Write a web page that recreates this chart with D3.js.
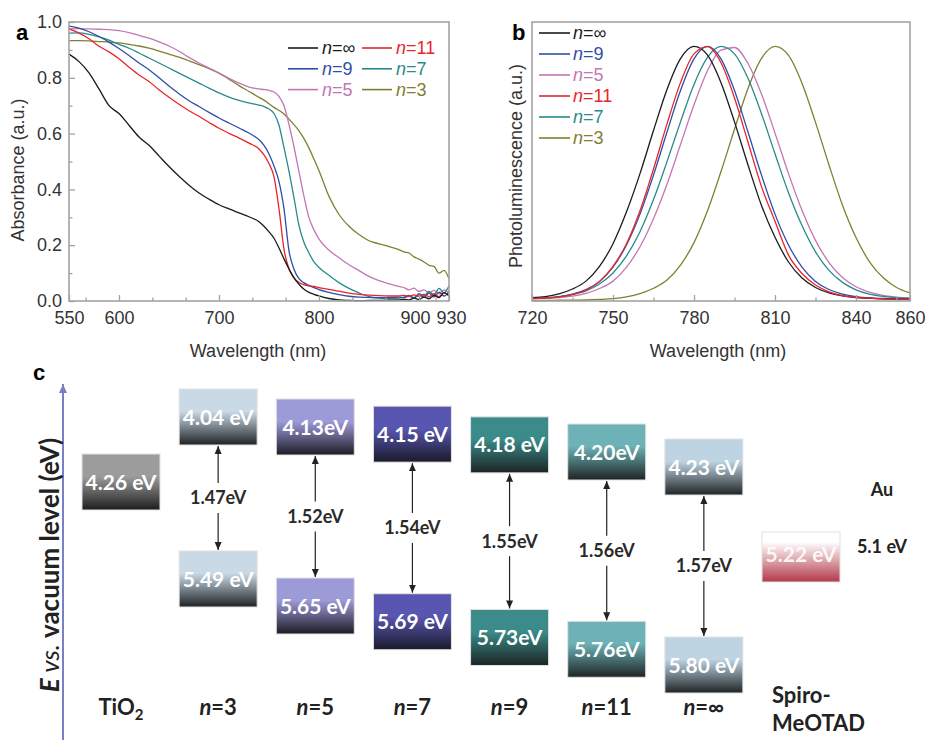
<!DOCTYPE html>
<html>
<head>
<meta charset="utf-8">
<script src="https://cdn.jsdelivr.net/npm/d3@7"></script>
<style>
body { margin: 0; background: #fff; }
svg { display: block; }
</style>
</head>
<body>
<div id="chart"></div>
<script>
// ---------- panel a : absorbance ----------
var absWl = [550,560,570,580,590,600,610,620,630,640,650,660,670,680,690,700,710,720,730,740,
             745,750,755,760,765,770,775,780,785,790,795,800,
             810,820,830,840,850,860,870,880,
             885,890,895,900,905,910,915,920,925,930];
var absInf = [.885,.858,.818,.760,.700,.672,.630,.588,.558,.520,.482,.447,.415,.387,.365,.345,.330,.316,.302,.284,
              .268,.248,.225,.190,.151,.115,.083,.060,.042,.031,.024,.018,
              .009,.004,.002,.001,.002,.002,.003,.004,
              .006,.004,.010,.006,.014,.008,.020,.012,.030,.018];
var abs11 = [.975,.960,.940,.913,.893,.868,.838,.810,.787,.757,.730,.705,.682,.662,.640,.619,.601,.584,.566,.545,
             .524,.492,.445,.330,.185,.115,.083,.066,.058,.054,.052,.048,
             .042,.035,.028,.024,.021,.019,.018,.018,
             .020,.016,.022,.017,.024,.015,.026,.016,.030,.020];
var abs9 = [.985,.978,.965,.948,.928,.905,.880,.853,.829,.800,.771,.743,.718,.697,.676,.656,.638,.620,.602,.578,
            .558,.527,.484,.428,.330,.180,.114,.080,.065,.056,.048,.041,
            .031,.023,.017,.014,.013,.012,.012,.014,
            .012,.018,.010,.022,.013,.028,.014,.032,.018,.034];
var abs7 = [.960,.961,.956,.947,.935,.920,.906,.889,.871,.853,.835,.817,.799,.781,.763,.746,.731,.719,.710,.702,
            .697,.688,.672,.630,.550,.465,.370,.270,.210,.172,.140,.120,
            .092,.066,.045,.029,.016,.010,.008,.010,
            .014,.020,.012,.026,.018,.034,.022,.045,.030,.055];
var abs5 = [.975,.976,.975,.974,.973,.969,.962,.952,.942,.929,.914,.895,.873,.853,.835,.817,.798,.781,.767,.760,
            .758,.755,.749,.733,.700,.632,.552,.463,.375,.298,.255,.222,
            .182,.155,.130,.109,.088,.073,.062,.052,
            .048,.040,.046,.034,.040,.028,.038,.026,.040,.030];
var abs3 = [.933,.933,.932,.930,.928,.925,.920,.914,.906,.896,.885,.874,.861,.847,.833,.817,.795,.772,.751,.730,
            .720,.707,.694,.683,.670,.652,.632,.610,.582,.548,.508,.467,
            .375,.310,.268,.238,.216,.205,.195,.184,
            .176,.172,.158,.150,.140,.128,.124,.100,.110,.080];
var absXTicks = [550,600,700,800,900,930];
var absXMinor = [566.67,633.33,666.67,733.33,766.67,833.33,866.67,916.67];
var absYTicks = [0,0.2,0.4,0.6,0.8,1.0];
var absYMinor = [0.1,0.3,0.5,0.7,0.9];

// ---------- panel b : photoluminescence ----------
var plWl = [720,725,730,735,740,745,750,755,760,765,770,775,780,785,790,795,800,805,810,815,820,825,830,835,840,845,850,855,860];
var plInf = [.013,.017,.028,.047,.078,.136,.225,.350,.500,.669,.830,.951,.999,.965,.857,.703,.534,.375,.250,.153,.090,.053,.032,.020,.013,.011,.008,.007,.006];
var pl9 = [.010,.012,.017,.027,.045,.077,.133,.220,.341,.494,.663,.826,.950,.999,.950,.826,.663,.494,.341,.220,.133,.077,.045,.027,.017,.012,.010,.008,.007];
var pl5 = [.008,.011,.013,.019,.030,.049,.078,.133,.213,.323,.458,.614,.770,.904,.985,.995,.932,.812,.659,.500,.356,.238,.151,.092,.056,.035,.022,.015,.011];
var pl11 = [.009,.012,.016,.026,.043,.076,.136,.225,.354,.518,.695,.857,.970,.998,.935,.797,.623,.449,.313,.180,.108,.063,.036,.021,.014,.011,.008,.007,.006];
var pl7 = [.010,.012,.016,.025,.040,.067,.110,.177,.272,.398,.547,.703,.850,.956,.999,.970,.874,.735,.578,.425,.296,.193,.120,.073,.044,.027,.018,.013,.011];
var pl3 = [.002,.002,.003,.003,.004,.006,.009,.016,.029,.050,.082,.141,.229,.354,.508,.674,.834,.952,.999,.964,.855,.701,.534,.376,.249,.154,.092,.053,.032];
var plXTicks = [720,750,780,810,840,860];
var plXMinor = [735,765,795,825,855];

// ---------- panel c : energy levels ----------
var columns = ["TiO2", "n=3", "n=5", "n=7", "n=9", "n=11", "n=∞", "Spiro"];
var cbLevels = [4.26, 4.04, 4.13, 4.15, 4.18, 4.20, 4.23, null];
var vbLevels = [null, 5.49, 5.65, 5.69, 5.73, 5.76, 5.80, 5.22];
var cbLabels = ["4.26 eV", "4.04 eV", "4.13eV", "4.15 eV", "4.18 eV", "4.20eV", "4.23 eV", null];
var vbLabels = [null, "5.49 eV", "5.65 eV", "5.69 eV", "5.73eV", "5.76eV", "5.80 eV", "5.22 eV"];
var gapLabels = [null, "1.47eV", "1.52eV", "1.54eV", "1.55eV", "1.56eV", "1.57eV", null];
var auLevel = "5.1 eV";

// ---------- styles ----------
var seriesColor = {"∞": "#1b1b1b", "11": "#e8262a", "9": "#2f4ea8", "7": "#2a8a8a", "5": "#c276b6", "3": "#80802f"};
var boxTop = ["#9c9c9c", "#c9d9e5", "#9d9ad8", "#5856b0", "#3a8b89", "#6cb2b6", "#bed4e2", "#ffffff"];
var boxBottom = ["#1d1d1d", "#1f2226", "#1c1c26", "#1a1a2c", "#1b2424", "#1f2424", "#202326", "#b23848"];

var W = 928, H = 740;
var svg = d3.select("#chart").append("svg")
    .attr("width", W).attr("height", H)
    .style("background", "#fff");

var frameColor = "#a3a3a3", tickText = "#333";
var sansFont = "'Liberation Sans', Arial, sans-serif";
var boldFont = "Lato, 'Open Sans', sans-serif";

var lineGen = function(x, y, wl) {
    return d3.line()
        .x(function(d, i) { return x(wl[i]); })
        .y(function(d) { return y(d); })
        .curve(d3.curveMonotoneX);
};

function drawFrame(g, x0, y0, x1, y1) {
    g.append("rect")
        .attr("x", x0).attr("y", y0)
        .attr("width", x1 - x0).attr("height", y1 - y0)
        .attr("fill", "none")
        .attr("stroke", frameColor)
        .attr("stroke-width", 1.6);
}

function styleAxis(sel) {
    sel.select(".domain").remove();
    sel.selectAll("line").attr("stroke", frameColor).attr("stroke-width", 1.3);
    sel.selectAll("text")
        .attr("fill", tickText)
        .style("font-family", sansFont)
        .style("font-size", "18px");
}

// ============ panel a ============
var xA = d3.scaleLinear().domain([550, 930]).range([69, 449]);
var yA = d3.scaleLinear().domain([0, 1]).range([301, 22]);
var gA = svg.append("g").attr("class", "panel-a");

var absSeries = [
    {key: "3", values: abs3},
    {key: "5", values: abs5},
    {key: "7", values: abs7},
    {key: "9", values: abs9},
    {key: "11", values: abs11},
    {key: "∞", values: absInf}
];

gA.append("g").attr("class", "curves")
    .selectAll("path")
    .data(absSeries)
    .enter().append("path")
    .attr("fill", "none")
    .attr("stroke", function(d) { return seriesColor[d.key]; })
    .attr("stroke-width", 1.3)
    .attr("d", function(d) { return lineGen(xA, yA, absWl)(d.values); });

drawFrame(gA, 69, 22, 449, 301);

gA.append("g")
    .attr("transform", "translate(0,301)")
    .call(d3.axisBottom(xA).tickValues(absXTicks).tickSize(-6).tickPadding(10).tickFormat(d3.format("d")))
    .call(styleAxis)
    .selectAll("text")
    .attr("dx", function(d) { return d == 900 ? -4 : (d == 930 ? 2 : 0); });
gA.append("g")
    .attr("transform", "translate(0,301)")
    .call(d3.axisBottom(xA).tickValues(absXMinor).tickSize(-3.5).tickFormat(""))
    .call(styleAxis);
gA.append("g")
    .attr("transform", "translate(69,0)")
    .call(d3.axisLeft(yA).tickValues(absYTicks).tickSize(-6).tickPadding(7).tickFormat(d3.format(".1f")))
    .call(styleAxis);
gA.append("g")
    .attr("transform", "translate(69,0)")
    .call(d3.axisLeft(yA).tickValues(absYMinor).tickSize(-3.5).tickFormat(""))
    .call(styleAxis);

gA.append("text")
    .attr("transform", "translate(24,170) rotate(-90)")
    .attr("text-anchor", "middle")
    .style("font-family", sansFont).style("font-size", "18px")
    .attr("fill", "#333")
    .text("Absorbance (a.u.)");
gA.append("text")
    .attr("x", 258).attr("y", 357)
    .attr("text-anchor", "middle")
    .style("font-family", sansFont).style("font-size", "18px")
    .attr("fill", "#333")
    .text("Wavelength (nm)");
gA.append("text")
    .attr("x", 16).attr("y", 40)
    .style("font-family", sansFont).style("font-size", "22px").style("font-weight", "bold")
    .text("a");

// legend a (2 columns)
var legA = [["∞", 0, 0], ["11", 1, 0], ["9", 0, 1], ["7", 1, 1], ["5", 0, 2], ["3", 1, 2]];
var legAItem = gA.append("g").selectAll("g")
    .data(legA)
    .enter().append("g")
    .attr("transform", function(d) { return "translate(" + (288 + d[1] * 74) + "," + (48 + d[2] * 20.8) + ")"; });
legAItem.append("line")
    .attr("x1", 0).attr("x2", 30)
    .attr("stroke", function(d) { return seriesColor[d[0]]; })
    .attr("stroke-width", 1.6);
var legAText = legAItem.append("text")
    .attr("x", 34).attr("dy", "0.35em")
    .style("font-family", sansFont).style("font-size", "18px")
    .attr("fill", function(d) { return seriesColor[d[0]]; });
legAText.append("tspan").style("font-style", "italic").text("n");
legAText.append("tspan").text(function(d) { return "=" + d[0]; });

// ============ panel b ============
var xB = d3.scaleLinear().domain([720, 860]).range([532, 910]);
var yB = d3.scaleLinear().domain([0, 1.095]).range([301, 22]);
var gB = svg.append("g").attr("class", "panel-b");

var plSeries = [
    {key: "3", values: pl3},
    {key: "5", values: pl5},
    {key: "7", values: pl7},
    {key: "9", values: pl9},
    {key: "∞", values: plInf},
    {key: "11", values: pl11}
];

gB.append("g").attr("class", "curves")
    .selectAll("path")
    .data(plSeries)
    .enter().append("path")
    .attr("fill", "none")
    .attr("stroke", function(d) { return seriesColor[d.key]; })
    .attr("stroke-width", 1.3)
    .attr("d", function(d) { return lineGen(xB, yB, plWl)(d.values); });

drawFrame(gB, 532, 22, 910, 301);

gB.append("g")
    .attr("transform", "translate(0,301)")
    .call(d3.axisBottom(xB).tickValues(plXTicks).tickSize(-6).tickPadding(10).tickFormat(d3.format("d")))
    .call(styleAxis);
gB.append("g")
    .attr("transform", "translate(0,301)")
    .call(d3.axisBottom(xB).tickValues(plXMinor).tickSize(-3.5).tickFormat(""))
    .call(styleAxis);

gB.append("text")
    .attr("transform", "translate(522,166) rotate(-90)")
    .attr("text-anchor", "middle")
    .style("font-family", sansFont).style("font-size", "18px")
    .attr("fill", "#333")
    .text("Photoluminescence (a.u.)");
gB.append("text")
    .attr("x", 718).attr("y", 357)
    .attr("text-anchor", "middle")
    .style("font-family", sansFont).style("font-size", "18px")
    .attr("fill", "#333")
    .text("Wavelength (nm)");
gB.append("text")
    .attr("x", 512).attr("y", 40)
    .style("font-family", sansFont).style("font-size", "22px").style("font-weight", "bold")
    .text("b");

var legB = ["∞", "9", "5", "11", "7", "3"];
var legBItem = gB.append("g").selectAll("g")
    .data(legB)
    .enter().append("g")
    .attr("transform", function(d, i) { return "translate(539," + (33 + i * 21) + ")"; });
legBItem.append("line")
    .attr("x1", 0).attr("x2", 31)
    .attr("stroke", function(d) { return seriesColor[d]; })
    .attr("stroke-width", 1.6);
var legBText = legBItem.append("text")
    .attr("x", 34).attr("dy", "0.35em")
    .style("font-family", sansFont).style("font-size", "18px")
    .attr("fill", function(d) { return seriesColor[d]; });
legBText.append("tspan").style("font-style", "italic").text("n");
legBText.append("tspan").text(function(d) { return "=" + d; });

// ============ panel c ============
var gC = svg.append("g").attr("class", "panel-c");
var defs = svg.append("defs");

// schematic (not to scale) vacuum-level axis
var eY = d3.scaleLinear()
    .domain([4.04, 4.13, 4.20, 4.26, 5.22, 5.49, 5.65, 5.80])
    .range([445, 455, 480, 510, 532, 551, 578, 637]);
var xC = d3.scalePoint().domain(columns).range([121, 801]);
var boxW = 78, boxH = 56;

columns.forEach(function(c, i) {
    var gr = defs.append("linearGradient")
        .attr("id", "grad" + i)
        .attr("x1", 0).attr("y1", 0).attr("x2", 0).attr("y2", 1);
    gr.append("stop").attr("offset", "0%").attr("stop-color", boxTop[i]);
    gr.append("stop").attr("offset", i == 7 ? "20%" : "40%").attr("stop-color", boxTop[i]);
    gr.append("stop").attr("offset", "100%").attr("stop-color", boxBottom[i]);
});

defs.append("marker")
    .attr("id", "ahead")
    .attr("viewBox", "0 -4 8 8")
    .attr("refX", 8).attr("refY", 0)
    .attr("markerUnits", "userSpaceOnUse")
    .attr("markerWidth", 8).attr("markerHeight", 8)
    .attr("orient", "auto")
    .append("path").attr("d", "M0,-3.5L8,0L0,3.5Z").attr("fill", "#222");

defs.append("marker")
    .attr("id", "bhead")
    .attr("viewBox", "0 -5 10 10")
    .attr("refX", 9).attr("refY", 0)
    .attr("markerUnits", "userSpaceOnUse")
    .attr("markerWidth", 10).attr("markerHeight", 10)
    .attr("orient", "auto")
    .append("path").attr("d", "M0,-4L9,0L0,4Z").attr("fill", "#7a80c4");

// vertical energy axis
gC.append("line")
    .attr("x1", 63).attr("x2", 63)
    .attr("y1", 740).attr("y2", 384)
    .attr("stroke", "#7a80c4").attr("stroke-width", 2)
    .attr("marker-end", "url(#bhead)");

var eLab = gC.append("text")
    .attr("transform", "translate(59,565) rotate(-90)")
    .attr("text-anchor", "middle")
    .style("font-family", boldFont).style("font-size", "26px")
    .attr("fill", "#222");
eLab.append("tspan").style("font-style", "italic").style("font-weight", "bold").text("E");
eLab.append("tspan").style("font-style", "italic").style("font-weight", "normal").text(" vs. ");
eLab.append("tspan").style("font-weight", "bold").text("vacuum level (eV)");

gC.append("text")
    .attr("x", 33).attr("y", 380)
    .style("font-family", sansFont).style("font-size", "22px").style("font-weight", "bold")
    .text("c");

var colData = columns.map(function(c, i) {
    return {name: c, i: i, cb: cbLevels[i], vb: vbLevels[i], cbLab: cbLabels[i], vbLab: vbLabels[i], gap: gapLabels[i]};
});

// upper (conduction) boxes
var upper = gC.append("g").selectAll("g")
    .data(colData.filter(function(d) { return d.cb != null; }))
    .enter().append("g");
upper.append("rect")
    .attr("x", function(d) { return xC(d.name) - boxW / 2; })
    .attr("y", function(d) { return eY(d.cb) - boxH; })
    .attr("width", boxW).attr("height", boxH)
    .attr("fill", function(d) { return "url(#grad" + d.i + ")"; })
    .attr("stroke", "#e2e2e2").attr("stroke-width", 1);
upper.append("text")
    .attr("x", function(d) { return xC(d.name); })
    .attr("y", function(d) { return eY(d.cb) - boxH / 2; })
    .attr("dy", "0.36em")
    .attr("text-anchor", "middle")
    .style("font-family", boldFont).style("font-size", "21px").style("font-weight", "bold")
    .attr("fill", "#fff")
    .text(function(d) { return d.cbLab; });

// lower (valence) boxes
var lower = gC.append("g").selectAll("g")
    .data(colData.filter(function(d) { return d.vb != null; }))
    .enter().append("g");
lower.append("rect")
    .attr("x", function(d) { return xC(d.name) - boxW / 2; })
    .attr("y", function(d) { return eY(d.vb); })
    .attr("width", boxW).attr("height", function(d) { return d.name == "Spiro" ? boxH - 6 : boxH; })
    .attr("fill", function(d) { return "url(#grad" + d.i + ")"; })
    .attr("stroke", "#e2e2e2").attr("stroke-width", 1);
lower.append("text")
    .attr("x", function(d) { return xC(d.name); })
    .attr("y", function(d) { return eY(d.vb) + boxH / 2 - (d.name == "Spiro" ? 6 : 0); })
    .attr("dy", "0.36em")
    .attr("text-anchor", "middle")
    .style("font-family", boldFont).style("font-size", "21px").style("font-weight", "bold")
    .attr("fill", "#fff")
    .attr("fill-opacity", function(d) { return d.name == "Spiro" ? 0.9 : 1; })
    .text(function(d) { return d.vbLab; });

// band gap arrows
var gaps = gC.append("g").selectAll("g")
    .data(colData.filter(function(d) { return d.gap != null; }))
    .enter().append("g");
gaps.append("line")
    .attr("x1", function(d) { return xC(d.name); })
    .attr("x2", function(d) { return xC(d.name); })
    .attr("y1", function(d) { return (eY(d.cb) + eY(d.vb)) / 2 - 15; })
    .attr("y2", function(d) { return eY(d.cb) + 1; })
    .attr("stroke", "#222").attr("stroke-width", 1.2)
    .attr("marker-end", "url(#ahead)");
gaps.append("line")
    .attr("x1", function(d) { return xC(d.name); })
    .attr("x2", function(d) { return xC(d.name); })
    .attr("y1", function(d) { return (eY(d.cb) + eY(d.vb)) / 2 + 15; })
    .attr("y2", function(d) { return eY(d.vb) - 1; })
    .attr("stroke", "#222").attr("stroke-width", 1.2)
    .attr("marker-end", "url(#ahead)");
gaps.append("text")
    .attr("x", function(d) { return xC(d.name); })
    .attr("y", function(d) { return (eY(d.cb) + eY(d.vb)) / 2; })
    .attr("dy", "0.36em")
    .attr("text-anchor", "middle")
    .style("font-family", boldFont).style("font-size", "18px").style("font-weight", "bold")
    .attr("fill", "#2a2a2a")
    .text(function(d) { return d.gap; });

// column labels
var colLab = gC.append("g").selectAll("text")
    .data(colData.filter(function(d) { return d.name != "Spiro"; }))
    .enter().append("text")
    .attr("x", function(d) { return xC(d.name); })
    .attr("y", 715)
    .attr("text-anchor", "middle")
    .style("font-family", boldFont).style("font-size", "22px").style("font-weight", "bold")
    .attr("fill", "#222");
colLab.each(function(d) {
    var t = d3.select(this);
    if (d.name == "TiO2") {
        t.append("tspan").text("TiO");
        t.append("tspan").attr("dy", "0.3em").style("font-size", "15px").text("2");
    } else {
        t.append("tspan").style("font-style", "italic").text("n");
        t.append("tspan").text(d.name.slice(1));
    }
});

var spX = xC("Spiro") - 29;
gC.append("text")
    .attr("x", spX).attr("y", 703)
    .style("font-family", boldFont).style("font-size", "22px").style("font-weight", "bold")
    .attr("fill", "#222")
    .text("Spiro-");
gC.append("text")
    .attr("x", spX).attr("y", 731)
    .style("font-family", boldFont).style("font-size", "22px").style("font-weight", "bold")
    .attr("fill", "#222")
    .text("MeOTAD");

// Au electrode
var auX = xC("Spiro") + 81;
gC.append("text")
    .attr("x", auX).attr("y", eY(5.22) - 42)
    .attr("dy", "0.36em")
    .attr("text-anchor", "middle")
    .style("font-family", boldFont).style("font-size", "18px").style("font-weight", "bold")
    .attr("fill", "#222")
    .text("Au");
gC.append("text")
    .attr("x", auX).attr("y", eY(5.22) + 15)
    .attr("dy", "0.36em")
    .attr("text-anchor", "middle")
    .style("font-family", boldFont).style("font-size", "18px").style("font-weight", "bold")
    .attr("fill", "#222")
    .text(auLevel);
</script>
</body>
</html>
